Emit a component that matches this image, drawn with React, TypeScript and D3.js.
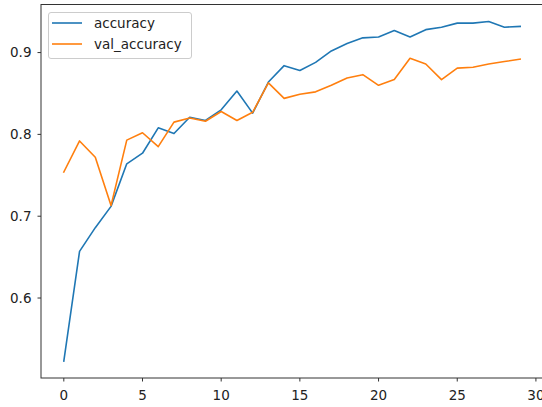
import React from "react";
import * as d3 from "d3";

const epochs = d3.range(30);
const accuracy = [
  0.523, 0.657, 0.686, 0.712, 0.764, 0.777, 0.808, 0.801, 0.821, 0.817,
  0.830, 0.853, 0.826, 0.864, 0.884, 0.878, 0.888, 0.902, 0.911, 0.918,
  0.919, 0.927, 0.919, 0.928, 0.931, 0.936, 0.936, 0.938, 0.931, 0.932,
];
const valAccuracy = [
  0.754, 0.792, 0.772, 0.713, 0.793, 0.802, 0.785, 0.815, 0.820, 0.816,
  0.828, 0.817, 0.827, 0.863, 0.844, 0.849, 0.852, 0.860, 0.869, 0.873,
  0.860, 0.867, 0.893, 0.886, 0.867, 0.881, 0.882, 0.886, 0.889, 0.892,
];
const xTicks = [0, 5, 10, 15, 20, 25, 30];
const yTicks = [0.6, 0.7, 0.8, 0.9];
const seriesNames = ["accuracy", "val_accuracy"];
const colors = ["#1f77b4", "#ff7f0e"];

export default function App() {
  const W = 542, H = 407;
  const left = 41, right = 543, top = 4.5, bottom = 378;
  const x = d3.scaleLinear().domain([-1.45, 30.45]).range([left, right]);
  const allVals = [...accuracy, ...valAccuracy];
  const mn = d3.min(allVals)!, mx = d3.max(allVals)!;
  const pad = (mx - mn) * 0.05;
  const y = d3.scaleLinear().domain([mn - pad, mx + pad]).range([bottom, top]);
  const line = d3.line<number>().x((_, i) => x(epochs[i])).y((d) => y(d));
  const font = "DejaVu Sans, sans-serif";
  const fs = 13.5;
  const series = [accuracy, valAccuracy];
  return (
    <svg width={W} height={H} style={{ position: "absolute", left: 0, top: 0, background: "#fff" }}>
      <rect x={0} y={0} width={W} height={H} fill="#fff" />
      {series.map((s, k) => (
        <path key={k} d={line(s)!} fill="none" stroke={colors[k]} strokeWidth={1.6} strokeLinejoin="round" strokeLinecap="square" />
      ))}
      <rect x={left} y={top} width={right - left} height={bottom - top} fill="none" stroke="#333" strokeWidth={1} />
      {xTicks.map((t) => (
        <g key={t}>
          <line x1={x(t)} x2={x(t)} y1={bottom} y2={bottom + 3.5} stroke="#333" strokeWidth={1} />
          <text x={x(t)} y={bottom + 22} textAnchor="middle" fontFamily={font} fontSize={fs} fill="#222">{t}</text>
        </g>
      ))}
      {yTicks.map((t) => (
        <g key={t}>
          <line x1={left - 3.5} x2={left} y1={y(t)} y2={y(t)} stroke="#333" strokeWidth={1} />
          <text x={left - 9.5} y={y(t)} dy="0.35em" textAnchor="end" fontFamily={font} fontSize={fs} fill="#222">{t.toFixed(1)}</text>
        </g>
      ))}
      <g>
        <rect x={48.5} y={12.5} width={143} height={46} rx={2.5} fill="#fff" fillOpacity={0.8} stroke="#ccc" strokeWidth={1} />
        {seriesNames.map((n, k) => (
          <g key={n}>
            <line x1={52} x2={82} y1={23 + k * 21} y2={23 + k * 21} stroke={colors[k]} strokeWidth={1.6} />
            <text x={94} y={23 + k * 21} dy="0.35em" fontFamily={font} fontSize={fs} fill="#222">{n}</text>
          </g>
        ))}
      </g>
    </svg>
  );
}
